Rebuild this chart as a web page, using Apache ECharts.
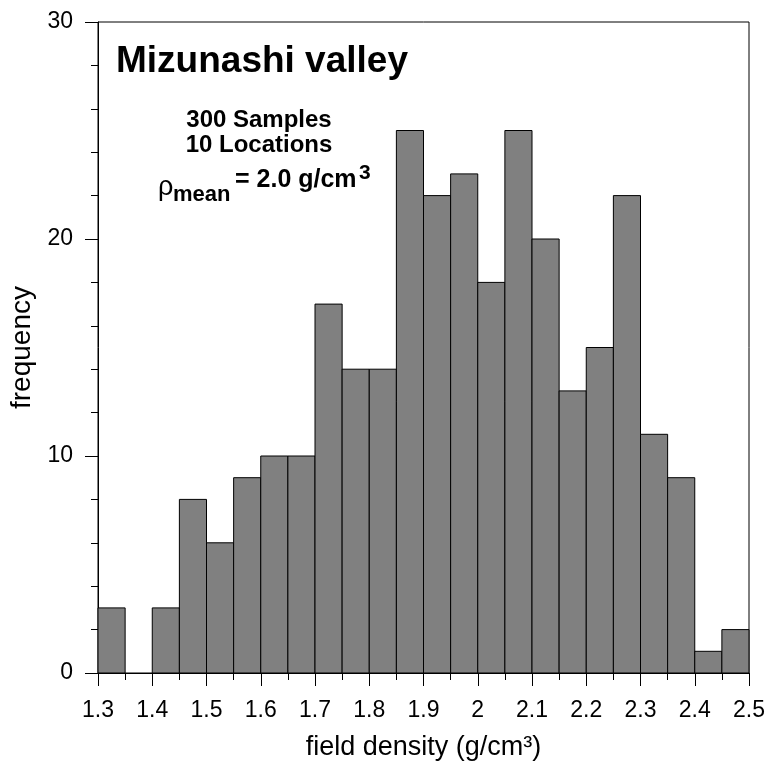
<!DOCTYPE html>
<html><head><meta charset="utf-8">
<script src="https://cdn.jsdelivr.net/npm/echarts@6/dist/echarts.min.js"></script>
<style>html,body{margin:0;padding:0;background:#fff}#c{width:770px;height:769px}</style>
</head><body><div id="c"></div>
<script>
const binStarts = [1.30,1.35,1.40,1.45,1.50,1.55,1.60,1.65,1.70,1.75,1.80,1.85,1.90,1.95,2.00,2.05,2.10,2.15,2.20,2.25,2.30,2.35,2.40,2.45];
const frequencies = [3,0,3,8,6,9,10,10,17,14,14,25,22,23,18,25,20,13,15,22,11,9,1,2];
const binWidth = 0.05;
const xTicks = [1.3,1.4,1.5,1.6,1.7,1.8,1.9,2,2.1,2.2,2.3,2.4,2.5];
const yTicks = [0,10,20,30];
const FONT = 'Liberation Sans, Arial, sans-serif';

const data = binStarts.map((s,i)=>[s, +(s+binWidth).toFixed(2), frequencies[i]]);
const chart = echarts.init(document.getElementById('c'), null, {renderer:'canvas'});
chart.setOption({
  animation:false,
  backgroundColor:'#fff',
  grid:{left:98, top:22, width:651, height:651, show:true, borderColor:'#000', borderWidth:1, backgroundColor:'transparent'},
  xAxis:{type:'value', min:1.3, max:2.5, interval:0.1,
    name:'field density (g/cm³)', nameLocation:'middle', nameGap:61,
    nameTextStyle:{fontFamily:FONT, fontSize:27, color:'#000'},
    axisLine:{show:true, onZero:false, lineStyle:{color:'#000', width:1}},
    axisTick:{show:true, inside:false, length:13, lineStyle:{color:'#000'}},
    minorTick:{show:true, splitNumber:2, length:7, lineStyle:{color:'#000'}},
    splitLine:{show:false},
    axisLabel:{fontFamily:FONT, fontSize:23, color:'#000', margin:26,
      formatter:v=>{const r=Math.round(v*10)/10; return xTicks.includes(r)? String(r):'';}}
  },
  yAxis:{type:'value', min:0, max:30, interval:10,
    name:'frequency', nameLocation:'middle', nameGap:61, nameRotate:90,
    nameTextStyle:{fontFamily:FONT, fontSize:28, color:'#000'},
    axisLine:{show:true, lineStyle:{color:'#000', width:1}},
    axisTick:{show:true, inside:false, length:13, lineStyle:{color:'#000'}},
    minorTick:{show:true, splitNumber:5, length:7, lineStyle:{color:'#000'}},
    splitLine:{show:false},
    axisLabel:{fontFamily:FONT, fontSize:23, color:'#000', margin:25,
      formatter:v=>yTicks.includes(v)?String(v):''}
  },
  series:[{
    type:'custom',
    data:data,
    encode:{x:[0,1], y:2},
    renderItem:function(params, api){
      if (api.value(2) <= 0) return null;
      const p0 = api.coord([api.value(0), api.value(2)]);
      const p1 = api.coord([api.value(1), 0]);
      return {type:'rect', shape:{x:p0[0], y:p0[1], width:p1[0]-p0[0], height:p1[1]-p0[1]},
        style:{fill:'#808080', stroke:'#000', lineWidth:1}};
    }
  }],
  graphic:[
    {type:'text', x:116, y:62, style:{text:'Mizunashi valley', font:'bold 37px '+FONT, fill:'#000', verticalAlign:'middle'}},
    {type:'text', x:259, y:120, style:{text:'300 Samples', font:'bold 24px '+FONT, fill:'#000', align:'center', verticalAlign:'middle'}},
    {type:'text', x:259, y:145, style:{text:'10 Locations', font:'bold 24px '+FONT, fill:'#000', align:'center', verticalAlign:'middle'}},
    {type:'text', x:158, y:188, style:{text:'ρ', font:'27px '+FONT, fill:'#000', verticalAlign:'middle'}},
    {type:'text', x:173, y:195, style:{text:'mean', font:'bold 22px '+FONT, fill:'#000', verticalAlign:'middle'}},
    {type:'text', x:235, y:180, style:{text:'= 2.0 g/cm', font:'bold 25px '+FONT, fill:'#000', verticalAlign:'middle'}},
    {type:'text', x:359, y:173, style:{text:'3', font:'bold 21px '+FONT, fill:'#000', verticalAlign:'middle'}}
  ]
});
</script></body></html>
